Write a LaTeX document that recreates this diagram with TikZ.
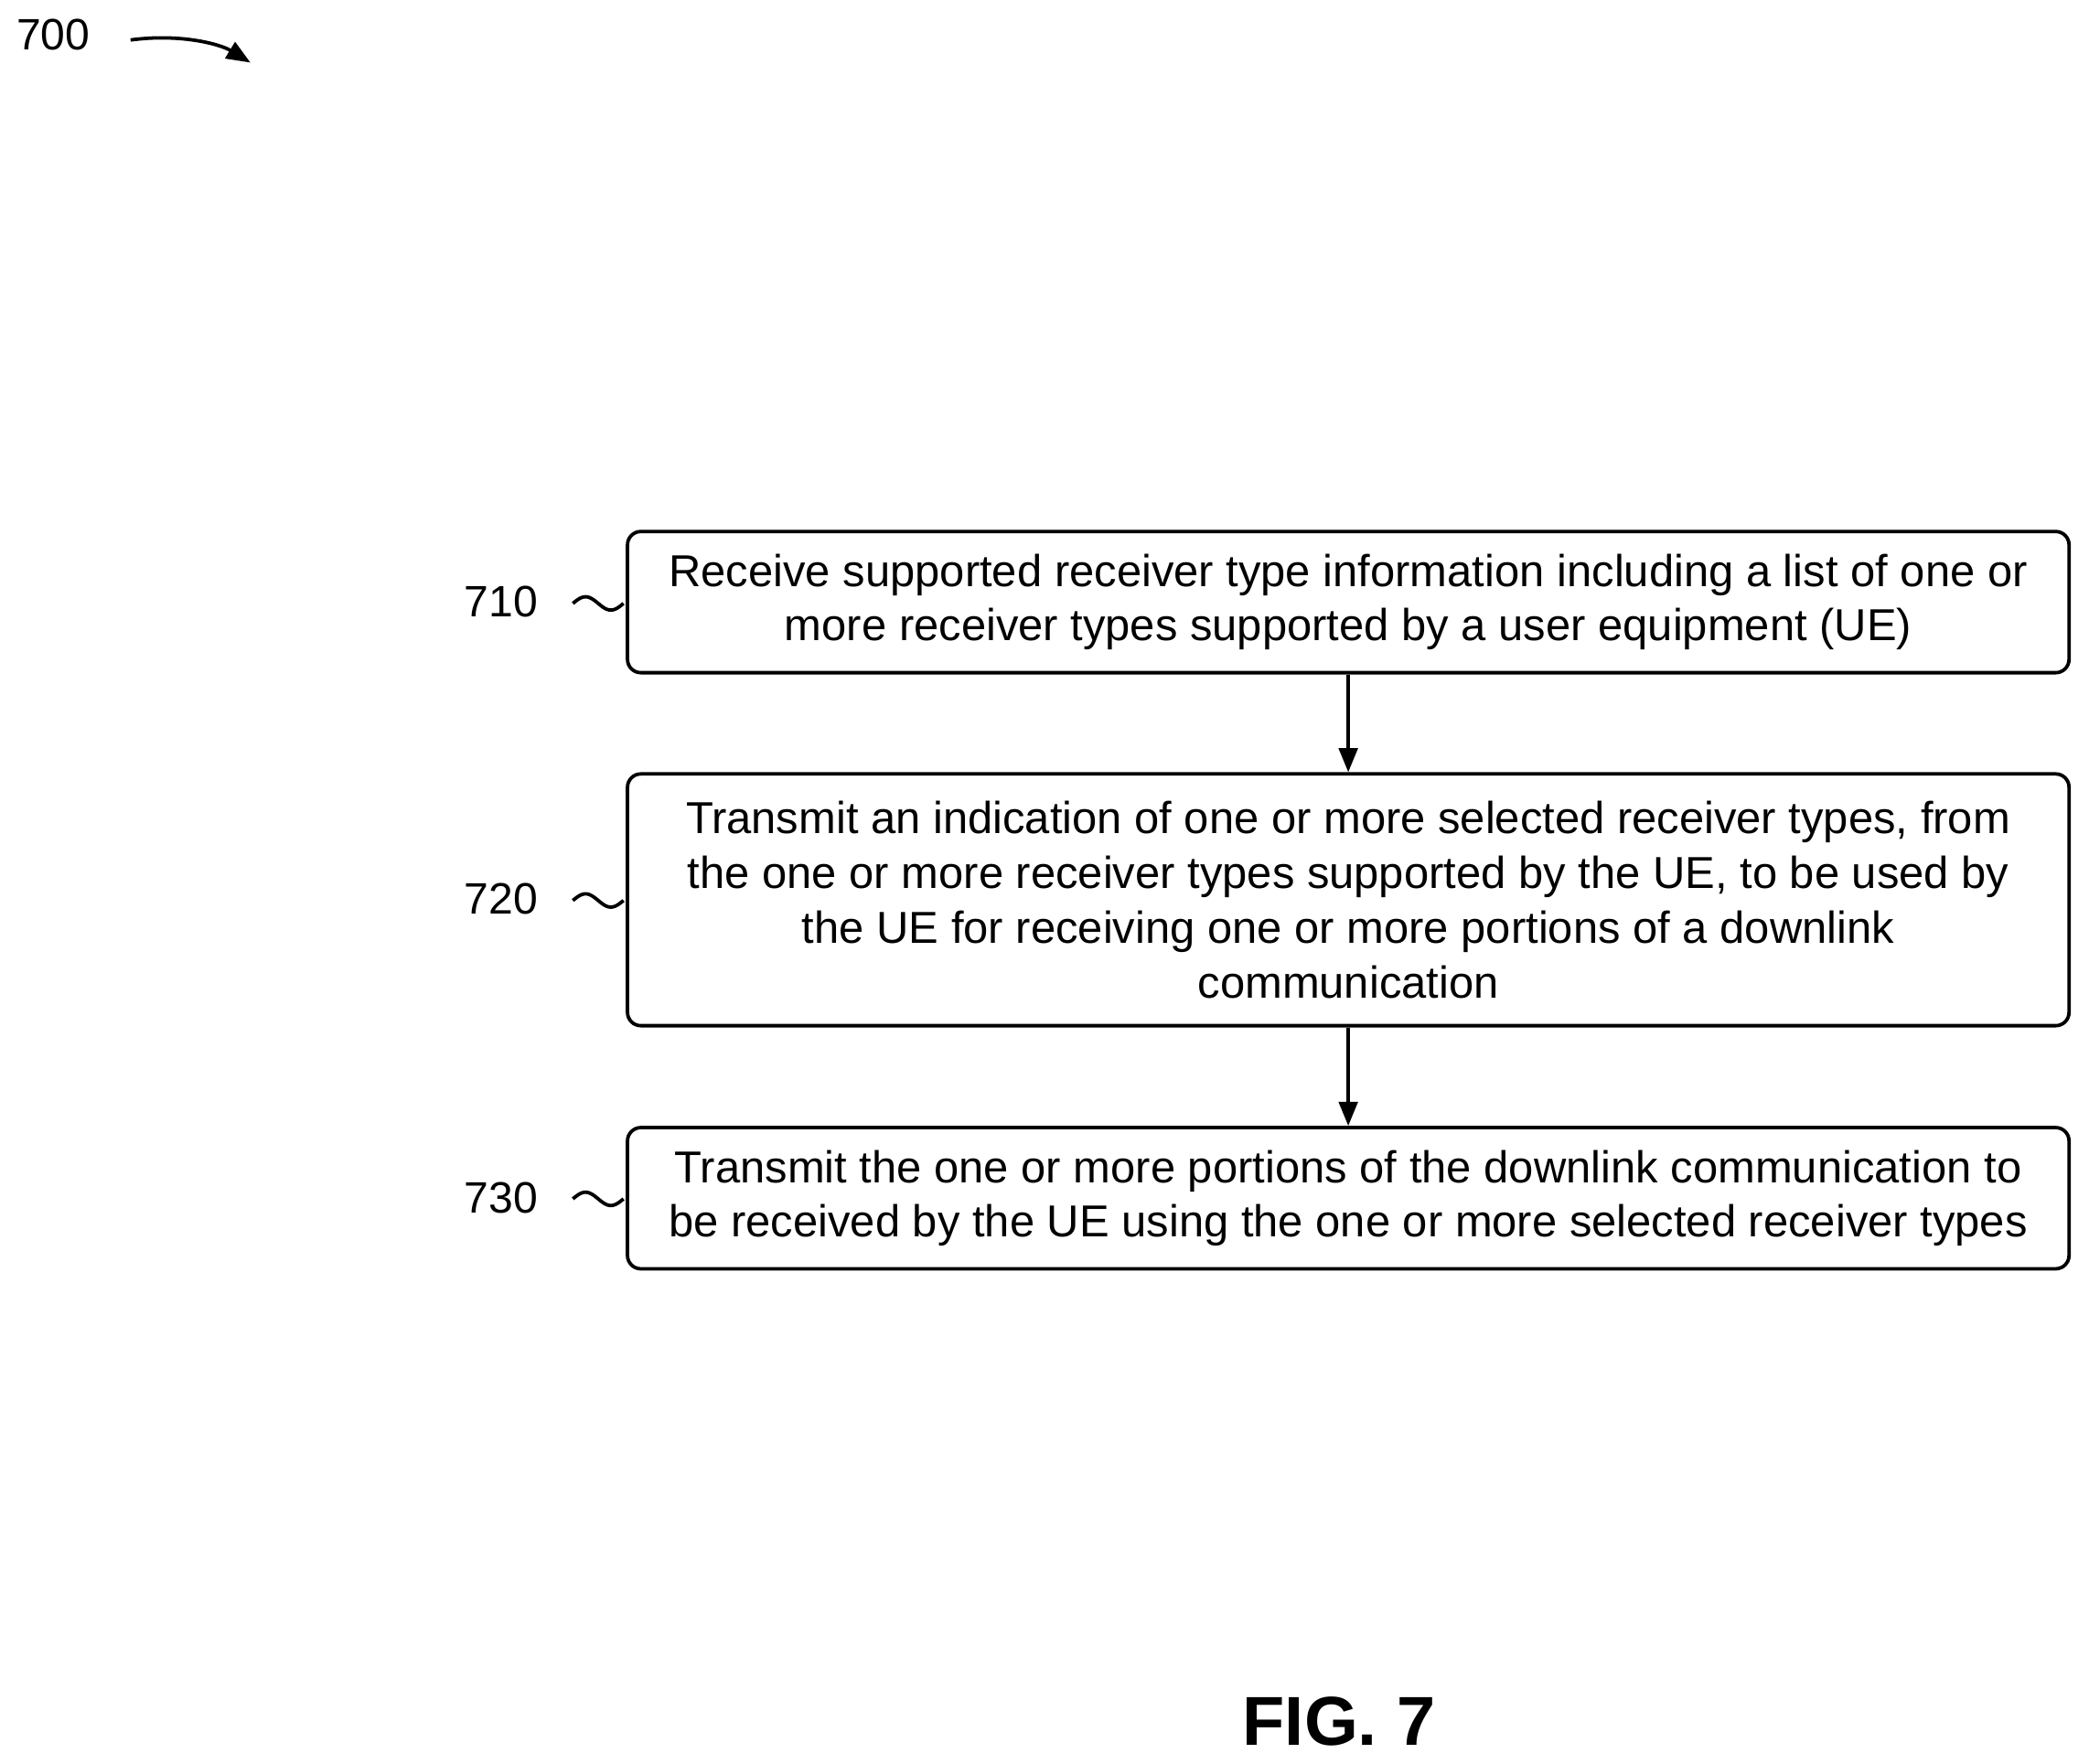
\documentclass[tikz,border=0pt]{standalone}
\usepackage{fontspec}
\setmainfont{Liberation Sans}
\usetikzlibrary{arrows.meta}
\begin{document}
\begin{tikzpicture}[x=0.5pt,y=-0.5pt,
  box/.style={draw,line width=1.3pt,rounded corners=5pt,minimum width=541pt,align=center,font=\fontsize{16.8}{20.5}\selectfont,inner sep=0pt},
  lab/.style={font=\fontsize{16.5}{18}\selectfont},
  arr/.style={-{Triangle[length=9pt,width=7pt]},line width=1.3pt},
  squig/.style={line width=1.3pt}]
\useasboundingbox (0,0) rectangle (1568,1324);
\node[box,minimum height=53pt] (b1) at (1012,452) {Receive supported receiver type information including a list of one or\\more receiver types supported by a user equipment (UE)};
\node[box,minimum height=94.5pt] (b2) at (1012,675.5) {Transmit an indication of one or more selected receiver types, from\\the one or more receiver types supported by the UE, to be used by\\the UE for receiving one or more portions of a downlink\\communication};
\node[box,minimum height=53pt] (b3) at (1012,899.5) {Transmit the one or more portions of the downlink communication to\\be received by the UE using the one or more selected receiver types};
\draw[arr] (b1) -- (b2);
\draw[arr] (b2) -- (b3);
\foreach \n/\y in {710/452,720/675,730/899}{
  \node[lab] (l\n) at (376,\y) {\n};
  \draw[squig] plot[domain=0:1,samples=25,smooth] ({430+38*\x},{\y+1-5*sin(360*\x)});
}
\node[lab] (l700) at (40,26) {700};
\coordinate (a0) at (98,30);
\coordinate (a1) at (188,47);
\draw[arr] (a0) .. controls (135,25) and (165,33) .. (a1);
\node[font=\bfseries\fontsize{26}{30}\selectfont] (fig) at (1005,1292) {FIG. 7};
\end{tikzpicture}
\end{document}
